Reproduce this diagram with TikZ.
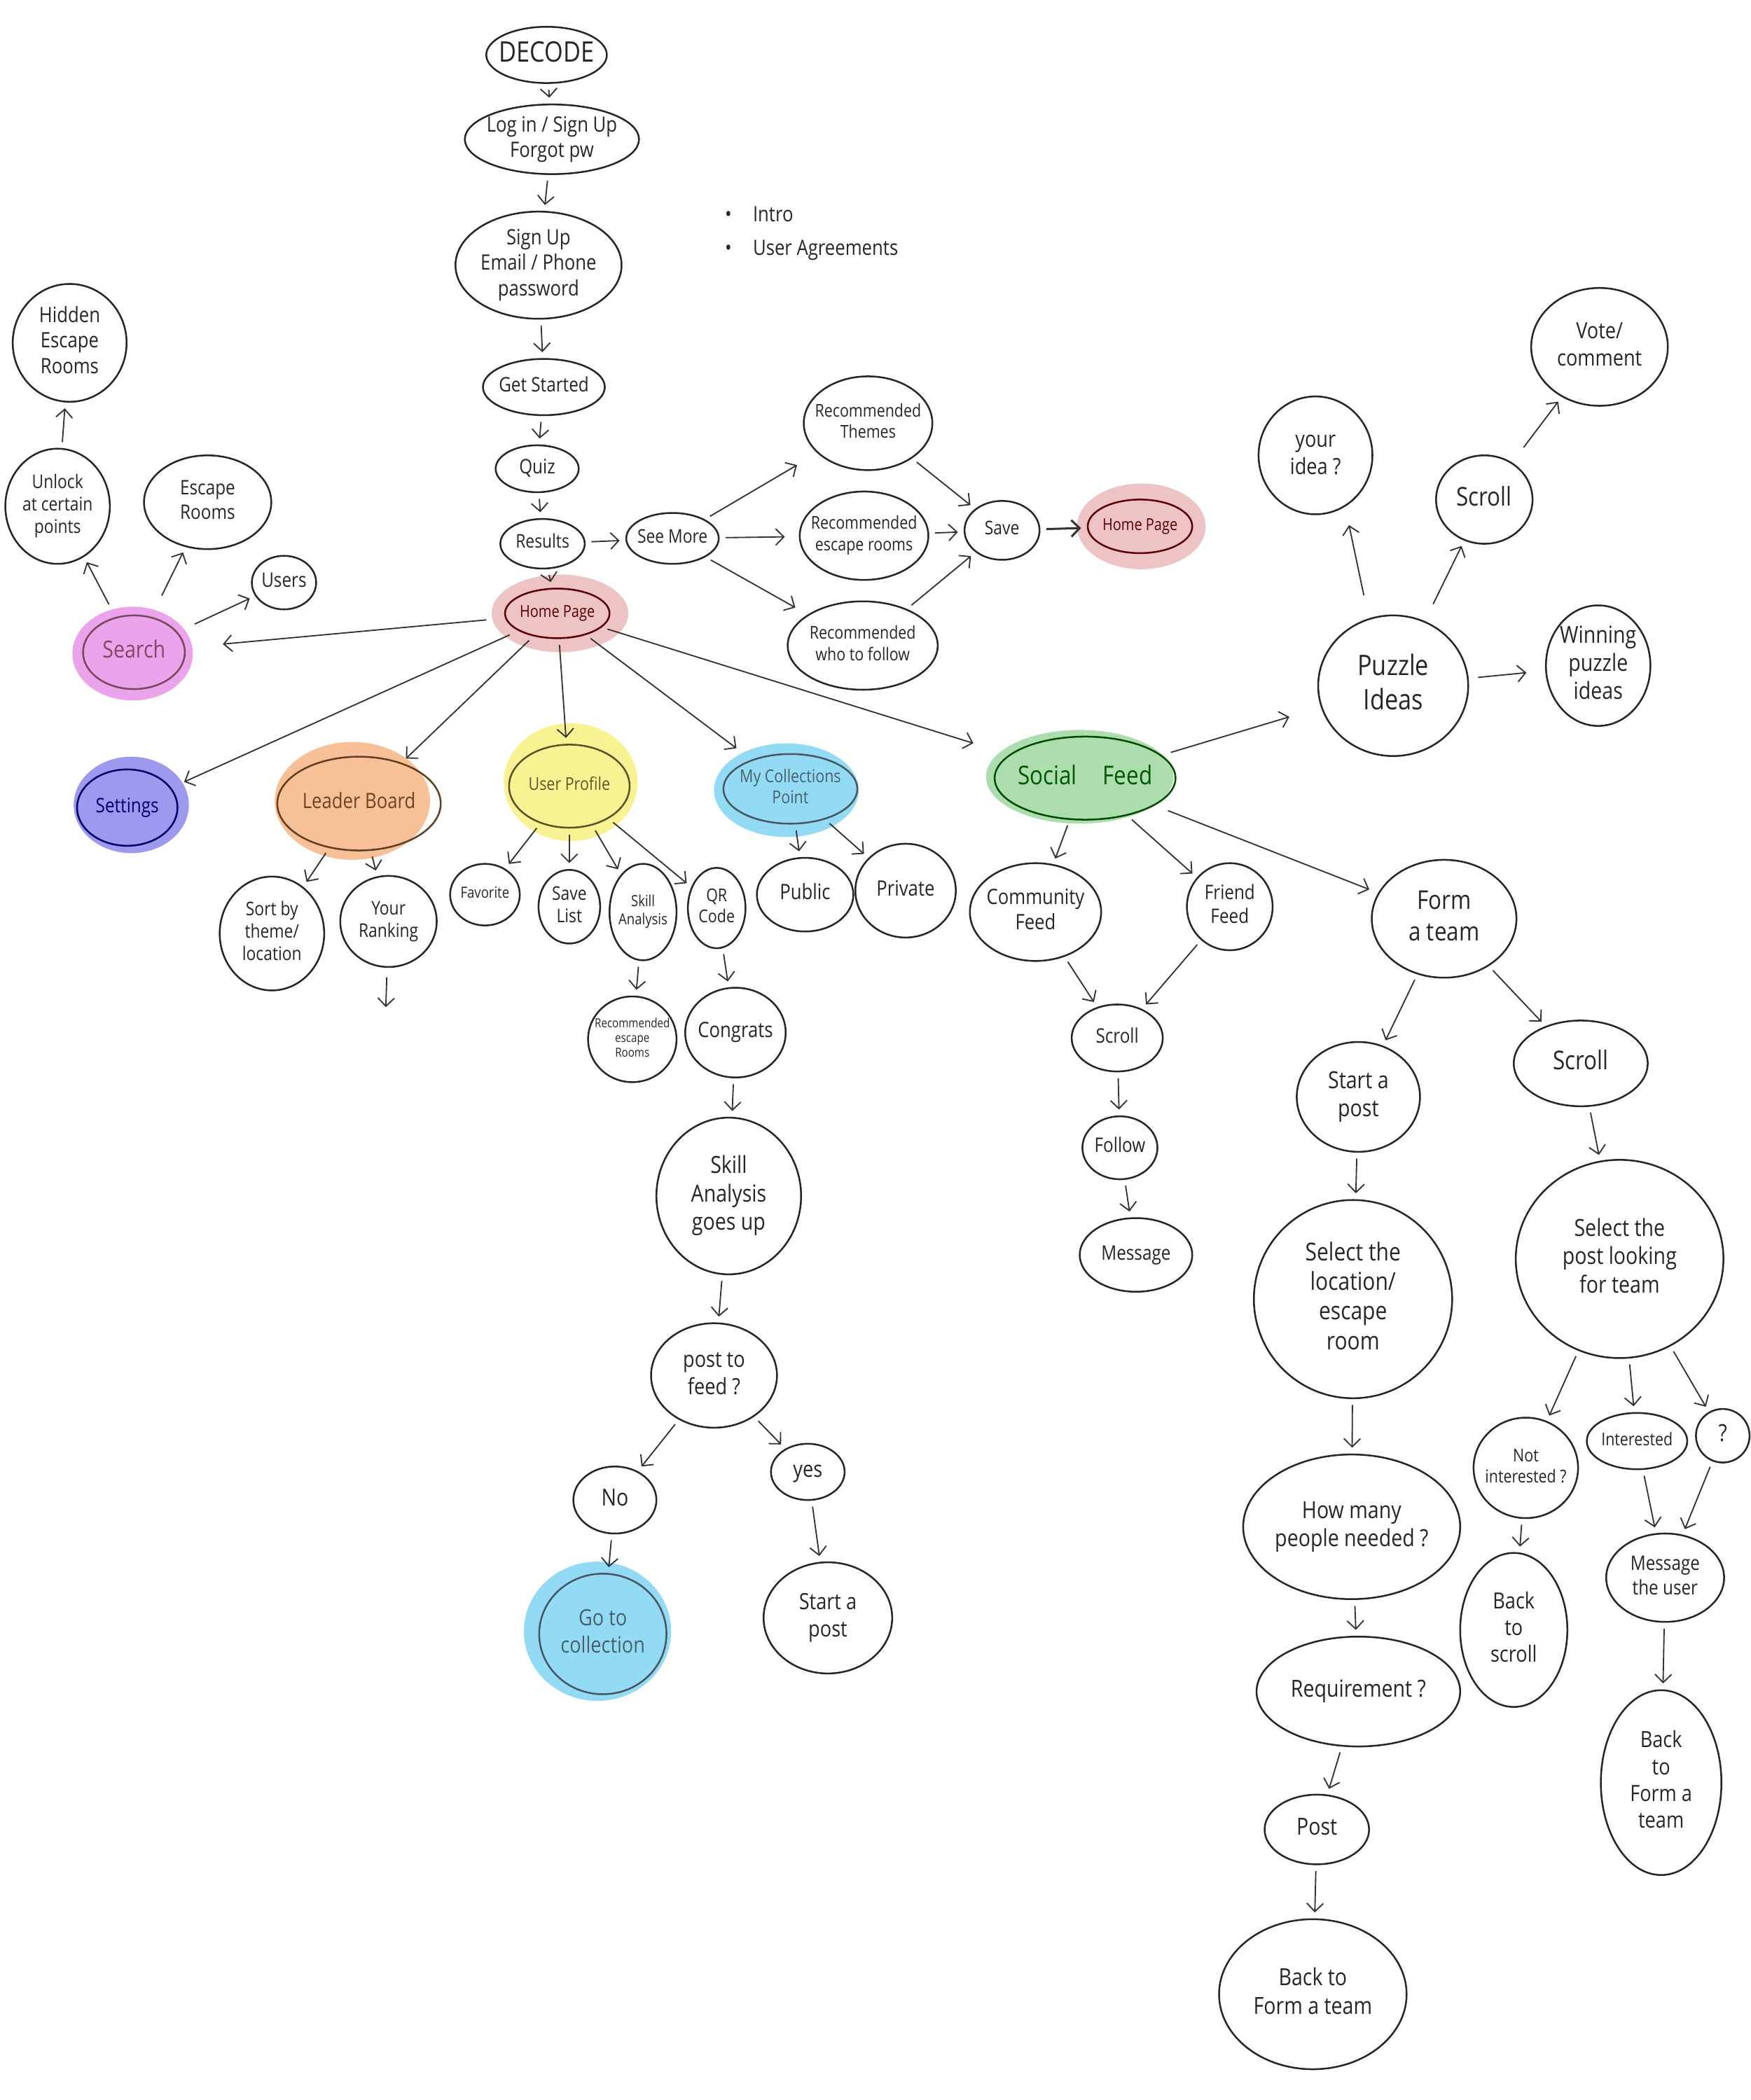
\documentclass[tikz,border=0pt]{standalone}
\usepackage{fontspec}
\setmainfont{Open Sans}[FakeStretch=0.85]
\usetikzlibrary{shapes.geometric,arrows.meta,backgrounds}
\newcommand\F[1]{\fontsize{#1}{\fpeval{#1*1.2}}\selectfont}
\newcommand\Z[1]{\sbox0{\begin{tabular}{@{}c@{}}#1\end{tabular}}\makebox[0pt]{\raisebox{\dimexpr(\dp0-\ht0)/2\relax}[0pt][0pt]{\usebox0}}}
\definecolor{cHome}{HTML}{EDC3C4}
\definecolor{cSearch}{HTML}{EBA3EC}
\definecolor{cSet}{HTML}{9C99EE}
\definecolor{cLead}{HTML}{F8C096}
\definecolor{cProf}{HTML}{F9F293}
\definecolor{cColl}{HTML}{93DBF4}
\definecolor{cSoc}{HTML}{ADDDAE}
\tikzset{
  nd/.style={ellipse, draw=black!85, line width=0.75pt, inner sep=0pt, text=black!85},
  sz/.style 2 args={minimum width=#1*0.02cm, minimum height=#2*0.02cm},
  ar/.style={-{Straight Barb[length=3.5pt,width=7pt]}, line width=0.55pt, draw=black!80, shorten >=2.5pt, shorten <=2.5pt},
}
\begin{document}
\begin{tikzpicture}[x=0.02cm,y=-0.02cm]
\useasboundingbox (0,0) rectangle (1307,1568);
% ---------- top column
\node[nd,sz={90}{42},font=\F{12}] (decode) at (408,41) {\Z{DECODE}};
\node[nd,sz={130}{52},font=\F{9}] (login) at (412,104) {\Z{Log in / Sign Up\\Forgot pw}};
\node[nd,sz={124}{80},font=\F{9}] (signup) at (402,198) {\Z{Sign Up\\Email / Phone\\password}};
\node[nd,sz={91}{42},font=\F{8.5}] (started) at (406,289) {\Z{Get Started}};
\node[nd,sz={62}{35},font=\F{8.5}] (quiz) at (401,350) {\Z{Quiz}};
\node[nd,sz={63}{37},font=\F{8}] (results) at (405,406) {\Z{Results}};
\node[nd,sz={69}{38},font=\F{8}] (seemore) at (502,402) {\Z{See More}};
\node[nd,sz={78}{37},font=\F{7},draw=red!35!black,text=red!35!black] (home1) at (416,458) {\Z{Home Page}};
\node[anchor=west,font=\F{9},text=black!85] (intro) at (535,160) {\textbullet\hspace{1em}Intro};
\node[anchor=west,font=\F{9},text=black!85] (agree) at (535,187) {\textbullet\hspace{1em}User Agreements};
% ---------- recommended
\node[nd,sz={96}{70},font=\F{7.5}] (recthemes) at (648,316) {\Z{Recommended\\Themes}};
\node[nd,sz={96}{66},font=\F{7.5}] (recescape) at (645,400) {\Z{Recommended\\escape rooms}};
\node[nd,sz={112}{66},font=\F{7.5}] (recfollow) at (644,482) {\Z{Recommended\\who to follow}};
\node[nd,sz={56}{44},font=\F{8}] (save) at (748,396) {\Z{Save}};
\node[nd,sz={78}{40},font=\F{7},draw=red!35!black,text=red!35!black] (home2) at (851,393) {\Z{Home Page}};
% ---------- search cluster
\node[nd,sz={85}{88},font=\F{9}] (hidden) at (52,256) {\Z{Hidden\\Escape\\Rooms}};
\node[nd,sz={78}{86},font=\F{8}] (unlock) at (43,378) {\Z{Unlock\\at certain\\points}};
\node[nd,sz={95}{70},font=\F{8.5}] (escrooms) at (155,375) {\Z{Escape\\Rooms}};
\node[nd,sz={48}{40},font=\F{8.5}] (users) at (212,435) {\Z{Users}};
\node[nd,sz={76}{55},font=\F{10},draw=magenta!40!black,text=magenta!45!black] (search) at (100,487) {\Z{Search}};
% ---------- second row
\node[nd,sz={75}{57},font=\F{8.5},draw=blue!40!black,text=blue!45!black] (settings) at (95,603) {\Z{Settings}};
\node[nd,sz={122}{70},font=\F{9},draw=brown!50!black,text=brown!55!black] (leader) at (268,600) {\Z{Leader Board}};
\node[nd,sz={90}{62},font=\F{7.5},draw=olive!50!black,text=olive!55!black] (profile) at (425,587) {\Z{User Profile}};
\node[nd,sz={100}{52},font=\F{7.5},draw=cyan!30!black,text=cyan!35!black] (coll) at (590,589) {\Z{My Collections\\Point}};
\node[nd,sz={135}{62},font=\F{11},draw=green!30!black,text=green!35!black] (social) at (810,581) {\Z{Social\quad Feed}};
% ---------- leader board children
\node[nd,sz={78}{85},font=\F{8}] (sortby) at (203,697) {\Z{Sort by\\theme/\\location}};
\node[nd,sz={72}{68},font=\F{8}] (ranking) at (290,688) {\Z{Your\\Ranking}};
\coordinate (rankend) at (288,752);
% ---------- profile children
\node[nd,sz={52}{46},font=\F{6.5}] (favorite) at (362,668) {\Z{Favorite}};
\node[nd,sz={46}{55},font=\F{8}] (savelist) at (425,677) {\Z{Save\\List}};
\node[nd,sz={50}{72},font=\F{6.5}] (skill) at (480,681) {\Z{Skill\\Analysis}};
\node[nd,sz={43}{60},font=\F{7.5}] (qr) at (535,678) {\Z{QR\\Code}};
\node[nd,sz={66}{64},font=\F{5.3}] (recescape2) at (472,776) {\Z{Recommended\\escape\\Rooms}};
\node[nd,sz={75}{67},font=\F{9}] (congrats) at (549,771) {\Z{Congrats}};
% ---------- collections children
\node[nd,sz={72}{55},font=\F{9}] (public) at (601,668) {\Z{Public}};
\node[nd,sz={75}{70},font=\F{9}] (private) at (676,665) {\Z{Private}};
% ---------- congrats chain
\node[nd,sz={108}{117},font=\F{10}] (skillup) at (544,893) {\Z{Skill\\Analysis\\goes up}};
\node[nd,sz={94}{78},font=\F{9.5}] (postfeed) at (533,1027) {\Z{post to\\feed ?}};
\node[nd,sz={62}{50},font=\F{10}] (no) at (459,1120) {\Z{No}};
\node[nd,sz={55}{42},font=\F{9.5}] (yes) at (603,1099) {\Z{yes}};
\node[nd,sz={95}{90},font=\F{9.5},draw=cyan!30!black,text=cyan!35!black] (goto) at (450,1220) {\Z{Go to\\collection}};
\node[nd,sz={96}{83},font=\F{9.5}] (startpost1) at (618,1208) {\Z{Start a\\post}};
% ---------- social feed children
\node[nd,sz={98}{73},font=\F{9}] (community) at (773,681) {\Z{Community\\Feed}};
\node[nd,sz={64}{65},font=\F{8.5}] (friend) at (918,677) {\Z{Friend\\Feed}};
\node[nd,sz={68}{50},font=\F{8.5}] (scroll1) at (834,775) {\Z{Scroll}};
\node[nd,sz={56}{47},font=\F{8.5}] (follow) at (836,857) {\Z{Follow}};
\node[nd,sz={84}{55},font=\F{8.5}] (message) at (848,937) {\Z{Message}};
% ---------- puzzle ideas
\node[nd,sz={112}{105},font=\F{12}] (puzzle) at (1040,512) {\Z{Puzzle\\Ideas}};
\node[nd,sz={85}{88},font=\F{9.5}] (youridea) at (982,340) {\Z{your\\idea ?}};
\node[nd,sz={72}{66},font=\F{11}] (scroll2) at (1108,373) {\Z{Scroll}};
\node[nd,sz={102}{88},font=\F{9.5}] (vote) at (1194,259) {\Z{Vote/\\comment}};
\node[nd,sz={78}{90},font=\F{10}] (winning) at (1193,497) {\Z{Winning\\puzzle\\ideas}};
% ---------- form a team
\node[nd,sz={108}{88},font=\F{11}] (formteam) at (1078,686) {\Z{Form\\a team}};
\node[nd,sz={92}{82},font=\F{10}] (startpost2) at (1014,819) {\Z{Start a\\post}};
\node[nd,sz={100}{64},font=\F{11}] (scroll3) at (1180,794) {\Z{Scroll}};
\node[nd,sz={148}{148},font=\F{10.5}] (selectloc) at (1010,970) {\Z{Select the\\location/\\escape\\room}};
\node[nd,sz={155}{148},font=\F{10}] (selectpost) at (1209,940) {\Z{Select the\\post looking\\for team}};
\node[nd,sz={162}{108},font=\F{10}] (howmany) at (1009,1140) {\Z{How many\\people needed ?}};
\node[nd,sz={78}{75},font=\F{7.5}] (notint) at (1139,1096) {\Z{Not\\interested ?}};
\node[nd,sz={75}{42},font=\F{7.5}] (interested) at (1222,1076) {\Z{Interested}};
\node[nd,sz={40}{40},font=\F{10}] (question) at (1286,1072) {\Z{?}};
\node[nd,sz={80}{115},font=\F{9.5}] (backscroll) at (1130,1217) {\Z{Back\\to\\scroll}};
\node[nd,sz={88}{66},font=\F{8.5}] (msguser) at (1243,1178) {\Z{Message\\the user}};
\node[nd,sz={152}{82},font=\F{10}] (requirement) at (1014,1263) {\Z{Requirement ?}};
\node[nd,sz={78}{52},font=\F{10}] (post) at (983,1366) {\Z{Post}};
\node[nd,sz={140}{112},font=\F{10}] (backform1) at (980,1489) {\Z{Back to\\Form a team}};
\node[nd,sz={90}{138},font=\F{9.5}] (backform2) at (1240,1331) {\Z{Back\\to\\Form a\\team}};
% ---------- colour washes
\begin{scope}[on background layer]
\fill[white] (0,0) rectangle (1307,1568);
\fill[cHome] (418,458) ellipse [x radius=1.02cm, y radius=0.58cm];
\fill[cHome] (852,393) ellipse [x radius=0.96cm, y radius=0.64cm];
\fill[cSearch] (99,488) ellipse [x radius=0.9cm, y radius=0.7cm];
\fill[cSet] (98,601) ellipse [x radius=0.86cm, y radius=0.72cm];
\fill[cLead] (263,598) ellipse [x radius=1.16cm, y radius=0.88cm];
\fill[cProf] (426,584) ellipse [x radius=1.0cm, y radius=0.88cm];
\fill[cColl] (587,590) ellipse [x radius=1.08cm, y radius=0.7cm];
\fill[cSoc] (806,580) ellipse [x radius=1.4cm, y radius=0.7cm];
\fill[cColl] (446,1218) ellipse [x radius=1.1cm, y radius=1.04cm];
\end{scope}
% ---------- connectors
\draw[ar] (decode) -- (login);
\draw[ar] (login) -- (signup);
\draw[ar] (signup) -- (started);
\draw[ar] (started) -- (quiz);
\draw[ar] (quiz) -- (results);
\draw[ar] (results) -- (home1);
\draw[ar] (results) -- (seemore);
\draw[ar,shorten >=10pt] (seemore) -- (recthemes);
\draw[ar,shorten >=6pt] (seemore) -- (recescape);
\draw[ar,shorten >=6pt] (seemore) -- (recfollow);
\draw[ar] (recthemes) -- (save);
\draw[ar] (recescape) -- (save);
\draw[ar] (recfollow) -- (save);
\draw[ar,line width=0.9pt] (save) -- (home2);
\draw[ar,shorten <=8pt,shorten >=16pt] (home1) -- (search);
\draw[ar,shorten <=4pt,shorten >=6pt] (home1) -- (settings);
\draw[ar] (home1) -- (leader);
\draw[ar] (home1) -- (profile);
\draw[ar,shorten >=8pt] (home1) -- (coll);
\draw[ar,shorten >=16pt] (home1) -- (social);
\draw[ar,shorten <=6pt] (search) -- (unlock);
\draw[ar,shorten <=10pt] (search) -- (escrooms);
\draw[ar,shorten <=8pt] (search) -- (users);
\draw[ar] (unlock) -- (hidden);
\draw[ar] (leader) -- (sortby);
\draw[ar] (leader) -- (ranking);
\draw[ar,shorten <=4pt,shorten >=0pt] (ranking) -- (rankend);
\draw[ar] (profile) -- (favorite);
\draw[ar] (profile) -- (savelist);
\draw[ar] (profile) -- (skill);
\draw[ar] (profile) -- (qr);
\draw[ar] (skill) -- (recescape2);
\draw[ar] (qr) -- (congrats);
\draw[ar] (coll) -- (public);
\draw[ar] (coll) -- (private);
\draw[ar] (congrats) -- (skillup);
\draw[ar] (skillup) -- (postfeed);
\draw[ar] (postfeed) -- (no);
\draw[ar] (postfeed) -- (yes);
\draw[ar] (no) -- (goto);
\draw[ar] (yes) -- (startpost1);
\draw[ar] (social) -- (community);
\draw[ar] (social) -- (friend);
\draw[ar] (community) -- (scroll1);
\draw[ar] (friend) -- (scroll1);
\draw[ar] (scroll1) -- (follow);
\draw[ar] (follow) -- (message);
\draw[ar,shorten <=4pt,shorten >=14pt] (social) -- (puzzle);
\draw[ar,shorten <=6pt,shorten >=4pt] (social) -- (formteam);
\draw[ar,shorten <=10pt,shorten >=8pt] (puzzle.110) -- (youridea.-60);
\draw[ar,shorten <=8pt] (puzzle) -- (scroll2);
\draw[ar,shorten <=8pt] (scroll2) -- (vote);
\draw[ar,shorten <=4pt,shorten >=8pt] (puzzle) -- (winning);
\draw[ar] (formteam) -- (startpost2);
\draw[ar] (formteam) -- (scroll3);
\draw[ar] (startpost2) -- (selectloc);
\draw[ar] (selectloc) -- (howmany);
\draw[ar] (howmany) -- (requirement);
\draw[ar] (requirement) -- (post);
\draw[ar] (post) -- (backform1);
\draw[ar] (scroll3) -- (selectpost);
\draw[ar] (selectpost) -- (notint);
\draw[ar] (selectpost) -- (interested);
\draw[ar] (selectpost) -- (question);
\draw[ar] (notint) -- (backscroll);
\draw[ar] (interested) -- (msguser);
\draw[ar] (question) -- (msguser);
\draw[ar] (msguser) -- (backform2);
\end{tikzpicture}
\end{document}
